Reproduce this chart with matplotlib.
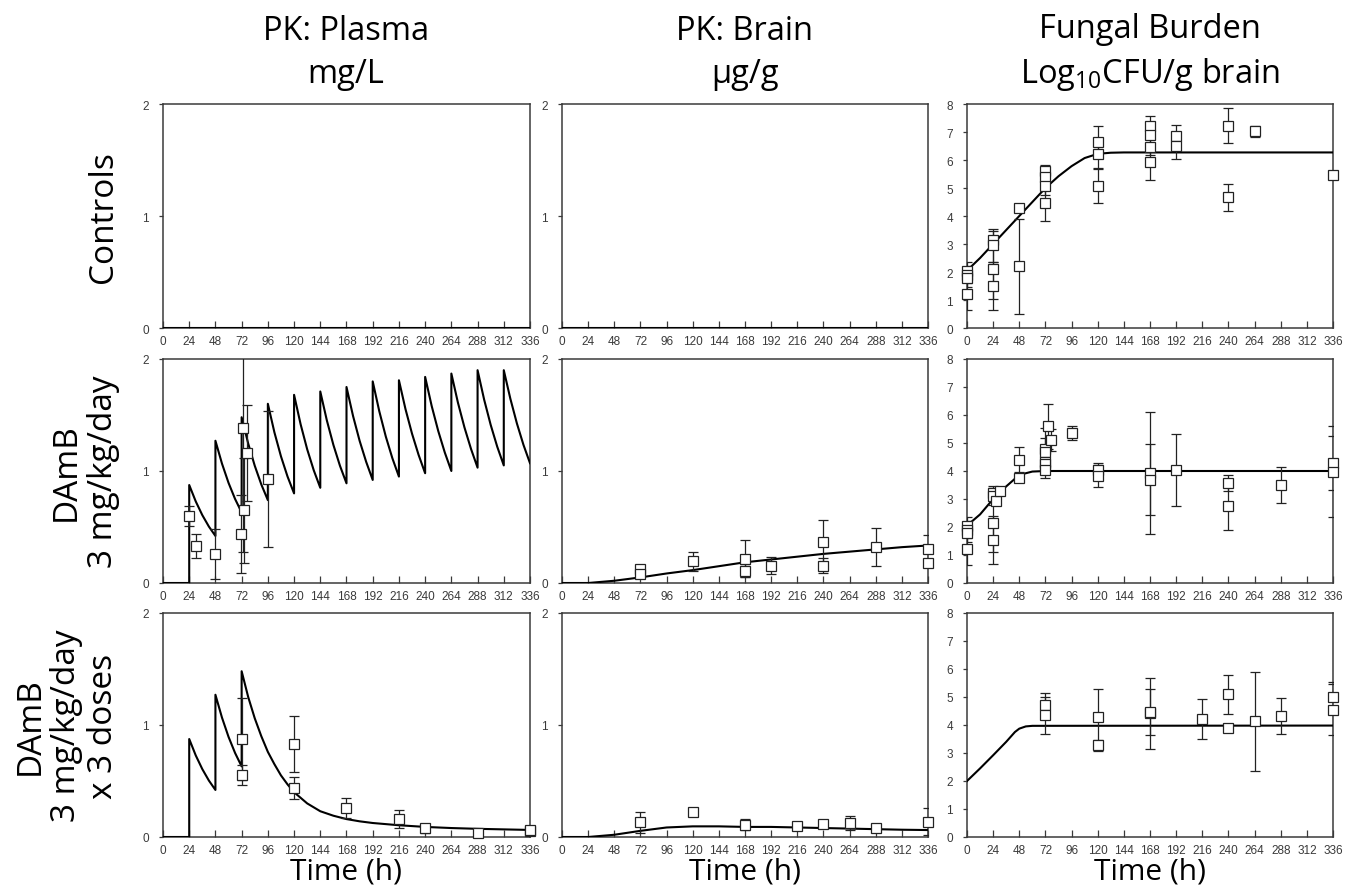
import numpy as np
import matplotlib
matplotlib.use("Agg")
import matplotlib.pyplot as plt

plt.rcParams['font.family'] = ['Liberation Sans', 'DejaVu Sans']
plt.rcParams['mathtext.fontset'] = 'custom'
plt.rcParams['mathtext.rm'] = 'Open Sans'
plt.rcParams['mathtext.it'] = 'Open Sans'

# ---------------- data ----------------
hours_ticks = list(range(0, 337, 24))
col_titles = ["PK: Plasma\nmg/L", "PK: Brain\nµg/g", "Fungal Burden\nLog$_{10}$CFU/g brain"]
row_titles = ["Controls", "DAmB\n3 mg/kg/day", "DAmB\n3 mg/kg/day\nx 3 doses"]

# plasma model: values at 0, 6, 12, 18, 24 h after each daily dose (dose at 24, 48, ...)
plasma_cycles = [
    [0.875, 0.728, 0.606, 0.504, 0.42],
    [1.27, 1.066, 0.894, 0.750, 0.63],
    [1.48, 1.245, 1.047, 0.880, 0.74],
    [1.60, 1.345, 1.131, 0.951, 0.80],
    [1.68, 1.417, 1.194, 1.007, 0.85],
    [1.71, 1.452, 1.233, 1.047, 0.89],
    [1.75, 1.491, 1.270, 1.082, 0.92],
    [1.80, 1.534, 1.307, 1.114, 0.95],
    [1.81, 1.553, 1.333, 1.144, 0.98],
    [1.84, 1.580, 1.357, 1.165, 1.00],
    [1.87, 1.611, 1.389, 1.197, 1.03],
    [1.90, 1.638, 1.412, 1.217, 1.05],
    [1.90, 1.646, 1.425, 1.234, 1.07],
]
# 3-dose tail after the last dose at 72 h
plasma3_tail_t = [72, 78, 84, 90, 96, 102, 108, 114, 120, 132, 144, 156, 168, 180, 192,
                  216, 240, 264, 288, 312, 336]
plasma3_tail_c = [1.48, 1.25, 1.06, 0.90, 0.76, 0.65, 0.55, 0.47, 0.40, 0.30, 0.23, 0.19,
                  0.16, 0.14, 0.125, 0.105, 0.09, 0.08, 0.073, 0.068, 0.063]

# brain model
brain_t = [0, 24, 48, 72, 96, 120, 144, 168, 192, 216, 240, 264, 288, 312, 336]
brain_daily_c = [0, 0, 0.02, 0.05, 0.085, 0.115, 0.15, 0.185, 0.21, 0.235, 0.26, 0.28,
                 0.30, 0.32, 0.335]
brain_3dose_c = [0, 0, 0.02, 0.055, 0.085, 0.095, 0.095, 0.09, 0.09, 0.085, 0.08, 0.075,
                 0.07, 0.065, 0.062]

# fungal burden model
fungal_ctrl_t = [0, 12, 24, 36, 48, 60, 72, 84, 96, 108, 120, 132, 144, 336]
fungal_ctrl_c = [2.05, 2.5, 3.0, 3.5, 4.0, 4.5, 5.0, 5.42, 5.78, 6.07, 6.22, 6.26, 6.27, 6.27]
fungal_daily_t = [0, 12, 24, 36, 48, 60, 72, 336]
fungal_daily_c = [2.05, 2.45, 3.0, 3.45, 3.86, 3.98, 4.0, 4.0]
fungal_3dose_t = [0, 12, 24, 36, 44, 48, 54, 60, 336]
fungal_3dose_c = [2.0, 2.45, 2.92, 3.4, 3.75, 3.87, 3.95, 3.97, 3.98]

# observations: time, mean, sd
plasma_daily_obs_t = [24, 30, 48, 71, 73, 74, 77, 96]
plasma_daily_obs_y = [0.60, 0.33, 0.26, 0.44, 1.38, 0.65, 1.16, 0.93]
plasma_daily_obs_sd = [0.09, 0.11, 0.22, 0.35, 1.10, 0.47, 0.43, 0.61]

plasma_3dose_obs_t = [72, 72, 120, 120, 168, 216, 240, 288, 336, 336]
plasma_3dose_obs_y = [0.875, 0.55, 0.83, 0.44, 0.26, 0.16, 0.08, 0.04, 0.05, 0.06]
plasma_3dose_obs_sd = [0.37, 0.09, 0.25, 0.10, 0.09, 0.08, 0.04, 0.02, 0.03, 0.02]

brain_daily_obs_t = [72, 72, 120, 168, 168, 192, 240, 240, 288, 336, 336]
brain_daily_obs_y = [0.125, 0.08, 0.195, 0.215, 0.11, 0.155, 0.37, 0.155, 0.32, 0.30, 0.18]
brain_daily_obs_sd = [0.0, 0.0, 0.085, 0.165, 0.06, 0.075, 0.19, 0.065, 0.17, 0.13, 0.02]

brain_3dose_obs_t = [72, 120, 168, 216, 240, 264, 288, 336]
brain_3dose_obs_y = [0.13, 0.22, 0.11, 0.10, 0.12, 0.125, 0.077, 0.137]
brain_3dose_obs_sd = [0.09, 0.0, 0.05, 0.0, 0.0, 0.065, 0.0, 0.12]

fungal_ctrl_obs_t = [0, 0, 0, 0, 24, 24, 24, 24, 48, 48, 72, 72, 72, 72, 120, 120, 120,
                     168, 168, 168, 168, 192, 192, 240, 240, 264, 336]
fungal_ctrl_obs_y = [2.05, 1.9, 1.8, 1.2, 3.15, 2.95, 2.1, 1.5, 4.3, 2.2, 5.6, 5.4, 5.06,
                     4.45, 6.65, 6.22, 5.08, 7.23, 6.9, 6.47, 5.93, 6.84, 6.5, 7.23, 4.67,
                     7.03, 5.47]
fungal_ctrl_obs_sd = [0.3, 0.3, 0.35, 0.55, 0.3, 0.6, 1.05, 0.85, 0.0, 1.7, 0.22, 0.3, 0.3,
                      0.62, 0.55, 0.5, 0.6, 0.35, 0.3, 0.3, 0.63, 0.4, 0.45, 0.63, 0.48,
                      0.2, 0.0]

fungal_daily_obs_t = [0, 0, 0, 0, 24, 24, 24, 24, 27, 30, 48, 48, 72, 72, 72, 72, 72, 74,
                      77, 96, 120, 120, 168, 168, 192, 240, 240, 288, 336, 336]
fungal_daily_obs_y = [2.05, 1.9, 1.8, 1.2, 3.2, 3.1, 2.14, 1.54, 2.94, 3.3, 4.4, 3.75,
                      4.79, 4.67, 4.31, 4.25, 4.05, 5.6, 5.1, 5.37, 4.03, 3.83, 3.93, 3.69,
                      4.03, 3.57, 2.74, 3.5, 4.28, 3.97]
fungal_daily_obs_sd = [0.3, 0.3, 0.35, 0.55, 0.25, 0.3, 1.05, 0.85, 0.0, 0.0, 0.45, 0.0,
                       0.75, 0.5, 0.4, 0.3, 0.3, 0.8, 0.4, 0.25, 0.27, 0.4, 2.18, 1.26,
                       1.28, 0.28, 0.86, 0.65, 0.97, 1.62]

fungal_3dose_obs_t = [72, 72, 120, 120, 168, 168, 216, 240, 240, 264, 288, 336, 336]
fungal_3dose_obs_y = [4.72, 4.35, 4.3, 3.27, 4.42, 4.45, 4.22, 5.1, 3.9, 4.13, 4.33, 5.0,
                      4.55]
fungal_3dose_obs_sd = [0.42, 0.66, 0.99, 0.2, 1.27, 0.82, 0.71, 0.7, 0.14, 1.78, 0.64,
                       0.53, 0.91]

# ---------------- build plasma curves ----------------
plasma_daily_t = [0, 24]
plasma_daily_c = [0, 0]
for i, cyc in enumerate(plasma_cycles):
    start = 24 * (i + 1)
    plasma_daily_t += [start + 6 * k for k in range(5)]
    plasma_daily_c += cyc

plasma_3dose_t = [0, 24]
plasma_3dose_c = [0, 0]
for i, cyc in enumerate(plasma_cycles[:2]):
    start = 24 * (i + 1)
    plasma_3dose_t += [start + 6 * k for k in range(5)]
    plasma_3dose_c += cyc
plasma_3dose_t += plasma3_tail_t
plasma_3dose_c += plasma3_tail_c

zero_t = [0, 336]
zero_c = [0, 0]

panels = [
    [(zero_t, zero_c, None), (zero_t, zero_c, None),
     (fungal_ctrl_t, fungal_ctrl_c, (fungal_ctrl_obs_t, fungal_ctrl_obs_y, fungal_ctrl_obs_sd))],
    [(plasma_daily_t, plasma_daily_c, (plasma_daily_obs_t, plasma_daily_obs_y, plasma_daily_obs_sd)),
     (brain_t, brain_daily_c, (brain_daily_obs_t, brain_daily_obs_y, brain_daily_obs_sd)),
     (fungal_daily_t, fungal_daily_c, (fungal_daily_obs_t, fungal_daily_obs_y, fungal_daily_obs_sd))],
    [(plasma_3dose_t, plasma_3dose_c, (plasma_3dose_obs_t, plasma_3dose_obs_y, plasma_3dose_obs_sd)),
     (brain_t, brain_3dose_c, (brain_3dose_obs_t, brain_3dose_obs_y, brain_3dose_obs_sd)),
     (fungal_3dose_t, fungal_3dose_c, (fungal_3dose_obs_t, fungal_3dose_obs_y, fungal_3dose_obs_sd))],
]

# ---------------- layout ----------------
W, H = 1354, 887
fig = plt.figure(figsize=(W / 100, H / 100), dpi=100)

col_left = [163, 562, 967]
col_width = [367, 366, 366]
row_top = [105, 360, 614]
row_h = 224
spine_col = '#3a3a3a'

for r in range(3):
    for c in range(3):
        ax = fig.add_axes([col_left[c] / W, (H - row_top[r] - row_h) / H,
                           col_width[c] / W, row_h / H])
        t, conc, obs = panels[r][c]
        ax.plot(t, conc, color='black', lw=1.5, zorder=3)
        if obs is not None:
            ot, oy, osd = (np.array(a, dtype=float) for a in obs)
            m = osd > 0
            ax.errorbar(ot[m], oy[m], yerr=osd[m], fmt='none', ecolor='#222222',
                        elinewidth=0.9, capsize=3.5, capthick=0.9, zorder=4)
            ax.plot(ot, oy, 's', ms=6.5, mfc='white', mec='#222222', mew=0.9, zorder=5,
                    clip_on=False)
        ax.set_xlim(0, 336)
        ax.set_xticks(hours_ticks)
        if c == 2:
            ax.set_ylim(0, 8)
            ax.set_yticks(range(0, 9))
        else:
            ax.set_ylim(0, 2)
            ax.set_yticks([0, 1, 2])
        ax.tick_params(axis='x', direction='in', length=5, width=0.9, labelsize=8.5,
                       colors=spine_col, pad=5)
        ax.tick_params(axis='y', direction='out', length=3, width=0.9, labelsize=8.5,
                       colors=spine_col, pad=7)
        for s in ax.spines.values():
            s.set_color(spine_col)
            s.set_linewidth(1.1)

# column titles
col_center = [346, 745, 1150]
for c in range(3):
    fig.text(col_center[c] / W, 1 - 53 / H, col_titles[c], ha='center', va='center',
             fontsize=23.5, family='Open Sans', linespacing=1.4)
    fig.text(col_center[c] / W, 1 - 872 / H, "Time (h)", ha='center', va='center',
             fontsize=21.5, family='Open Sans')

# row titles
for r in range(3):
    fig.text(120 / W, 1 - (row_top[r] + row_h / 2) / H, row_titles[r], rotation=90,
             ha='right', va='center', multialignment='center', fontsize=24,
             family='Open Sans', linespacing=1.15)

fig.savefig('out.png', dpi=100)
